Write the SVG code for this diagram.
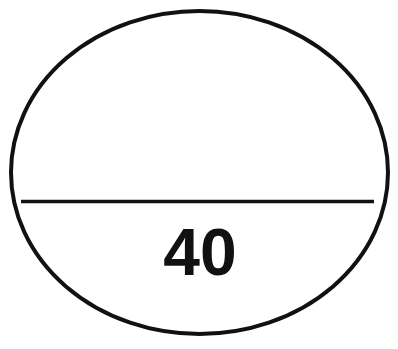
<svg xmlns="http://www.w3.org/2000/svg" width="398" height="349" viewBox="0 0 398 349">
<style>
.outline{fill:none;stroke:#111;stroke-width:4}
.divider{stroke:#111;stroke-width:3.5}
.label{font-family:"Liberation Sans",Arial,sans-serif;font-weight:bold;font-size:66px;fill:#111}
</style>
<rect width="398" height="349" fill="#fff"/>
<g id="node-ellipse">
<ellipse class="outline" cx="199.5" cy="172.5" rx="188.5" ry="161.5"/>
<line class="divider" x1="21" y1="201.5" x2="374" y2="201.5"/>
<text class="label" x="200" y="275" text-anchor="middle">40</text>
</g>
<g id="connectors"></g>
</svg>
